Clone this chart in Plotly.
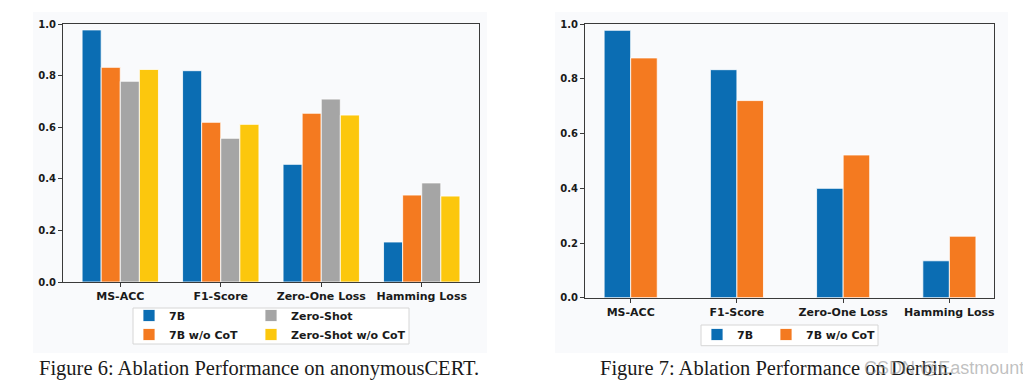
import plotly.graph_objects as go

# The page body adds an 8px offset; the figure is sized to fit the window.
OFF = 8
W, H = 1031 - OFF, 388 - OFF

categories = ["MS-ACC", "F1-Score", "Zero-One Loss", "Hamming Loss"]

# Figure 6: anonymousCERT
cert_series = ["7B", "7B w/o CoT", "Zero-Shot", "Zero-Shot w/o CoT"]
cert_7b = [0.977, 0.819, 0.456, 0.155]
cert_7b_nocot = [0.832, 0.619, 0.654, 0.337]
cert_zeroshot = [0.778, 0.557, 0.709, 0.384]
cert_zeroshot_nocot = [0.824, 0.611, 0.647, 0.333]

# Figure 7: Derbin
derbin_series = ["7B", "7B w/o CoT"]
derbin_7b = [0.978, 0.834, 0.400, 0.135]
derbin_7b_nocot = [0.877, 0.721, 0.522, 0.225]

y_ticks = [0.0, 0.2, 0.4, 0.6, 0.8, 1.0]

captions = ["Figure 6: Ablation Performance on anonymousCERT.",
            "Figure 7: Ablation Performance on Derbin."]
watermark = "CSDN @Eastmount"

colors = ["#0b6db3", "#f47a20", "#a5a5a5", "#fcc70d"]

BOLD = dict(family="DejaVu Sans", color="#1a1a1a", weight="bold")


def px(x):
    return (x - OFF) / W


def py(y):
    return (H - (y - OFF)) / H


fig = go.Figure()

cert_vals = [cert_7b, cert_7b_nocot, cert_zeroshot, cert_zeroshot_nocot]
cert_legend = ["legend", "legend", "legend2", "legend2"]
bw4 = 0.19
for i, (name, vals) in enumerate(zip(cert_series, cert_vals)):
    fig.add_trace(go.Bar(
        x=categories, y=vals, name=name,
        width=bw4, offset=-2 * bw4 + i * bw4,
        marker=dict(color=colors[i], line=dict(color="white", width=0.8)),
        xaxis="x", yaxis="y", legend=cert_legend[i],
    ))

derbin_vals = [derbin_7b, derbin_7b_nocot]
derbin_legend = ["legend3", "legend4"]
bw2 = 0.25
for i, (name, vals) in enumerate(zip(derbin_series, derbin_vals)):
    fig.add_trace(go.Bar(
        x=categories, y=vals, name=name,
        width=bw2, offset=-bw2 + i * bw2,
        marker=dict(color=colors[i], line=dict(color="white", width=0.8)),
        xaxis="x2", yaxis="y2", legend=derbin_legend[i],
    ))

axis_common = dict(showline=True, mirror=True, linecolor="#3a3a3a", linewidth=1,
                   ticks="outside", ticklen=4, tickcolor="#3a3a3a", showgrid=False,
                   zeroline=False)

legend_common = dict(xanchor="left", yanchor="top", orientation="v",
                     bgcolor="rgba(0,0,0,0)", borderwidth=0,
                     font=dict(size=11, **BOLD), traceorder="normal")

fig.update_layout(
    width=W, height=H,
    margin=dict(l=0, r=0, t=0, b=0, autoexpand=False),
    paper_bgcolor="white",
    plot_bgcolor="rgba(0,0,0,0)",
    barmode="overlay",
    xaxis=dict(domain=[px(63), px(479)], range=[-0.57, 3.57], anchor="y",
               tickfont=dict(size=11, **BOLD), **axis_common),
    yaxis=dict(domain=[py(282), py(24)], range=[0, 1.0], anchor="x",
               tickvals=y_ticks, tickformat=".1f",
               tickfont=dict(size=10, **BOLD), **axis_common),
    xaxis2=dict(domain=[px(585), px(994)], range=[-0.43, 3.42], anchor="y2",
                tickfont=dict(size=11, **BOLD), **axis_common),
    yaxis2=dict(domain=[py(297.7), py(24.3)], range=[0, 1.0], anchor="x2",
                tickvals=y_ticks, tickformat=".1f",
                tickfont=dict(size=10, **BOLD), **axis_common),
    legend=dict(x=px(129), y=py(301), **legend_common),
    legend2=dict(x=px(251), y=py(301), **legend_common),
    legend3=dict(x=px(697), y=py(320), **legend_common),
    legend4=dict(x=px(766), y=py(320), **legend_common),
    shapes=[
        dict(type="rect", xref="paper", yref="paper", layer="below",
             x0=px(33), x1=px(487), y0=py(353), y1=py(12),
             fillcolor="#f9fafc", line=dict(width=0)),
        dict(type="rect", xref="paper", yref="paper", layer="below",
             x0=px(555), x1=px(1008), y0=py(353), y1=py(12),
             fillcolor="#f9fafc", line=dict(width=0)),
        dict(type="rect", xref="paper", yref="paper", layer="below",
             x0=px(133), x1=px(409), y0=py(344), y1=py(308),
             fillcolor="white", line=dict(color="#d6d6d6", width=1)),
        dict(type="rect", xref="paper", yref="paper", layer="below",
             x0=px(701), x1=px(878), y0=py(345.7), y1=py(325),
             fillcolor="white", line=dict(color="#d6d6d6", width=1)),
    ],
    annotations=[
        dict(text=captions[0], xref="paper", yref="paper", x=px(259), y=py(368),
             xanchor="center", yanchor="middle", showarrow=False,
             font=dict(family="Liberation Serif", size=20.5, color="#1a1a1a")),
        dict(text=captions[1], xref="paper", yref="paper", x=px(776.5), y=py(368),
             xanchor="center", yanchor="middle", showarrow=False,
             font=dict(family="Liberation Serif", size=20.5, color="#1a1a1a")),
        dict(text=watermark, xref="paper", yref="paper", x=px(1026), y=py(368),
             xanchor="right", yanchor="middle", showarrow=False,
             font=dict(family="Liberation Sans", size=18, color="rgba(150,150,150,0.6)")),
    ],
)

fig.write_html("out.html")
